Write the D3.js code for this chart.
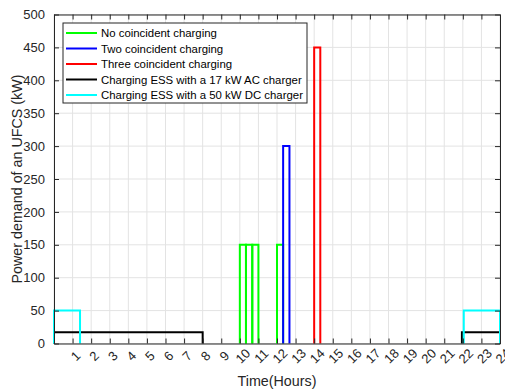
<!DOCTYPE html>
<html>
<head>
<meta charset="utf-8">
<script src="https://cdn.jsdelivr.net/npm/d3@7"></script>
<style>
  body { margin: 0; background: #fff; }
  svg { display: block; font-family: "Liberation Sans", Arial, sans-serif; }
</style>
</head>
<body>
<svg id="chart"></svg>
<script>
// series as rectangular pulses: [start hour, end hour, kW]
const noCoincident = [[10, 10.33, 150], [10.33, 10.67, 150], [10.67, 11, 150], [12, 12.33, 150]]
const twoCoincident = [[12.33, 12.67, 300]]
const threeCoincident = [[14, 14.33, 450]]
const essAC = [[0, 8, 17], [21.95, 24, 17]]
const essDC = [[0, 1.4, 50], [22.05, 24, 50]]

const seriesNames = [
  'No coincident charging',
  'Two coincident charging',
  'Three coincident charging',
  'Charging ESS with a 17 kW AC charger',
  'Charging ESS with a 50 kW DC charger'
]
const seriesColors = ['#00ff00', '#0000ff', '#ff0000', '#000000', '#00ffff']
const seriesData = [noCoincident, twoCoincident, threeCoincident, essAC, essDC]

const xTicks = d3.range(0, 25)
const xTickLabels = xTicks.map((d) => (d === 0 ? '' : String(d)))
const yTicks = d3.range(0, 501, 50)

const W = 505
const H = 390
const margin = { top: 14.5, right: 5, bottom: 46.5, left: 54 }
const width = W - margin.left - margin.right
const height = H - margin.top - margin.bottom
const axisColor = '#262626'

const svg = d3.select('#chart').attr('width', W).attr('height', H)
const g = svg.append('g').attr('transform', `translate(${margin.left},${margin.top})`)

const x = d3.scaleLinear().domain([0, 24]).range([0, width])
const y = d3.scaleLinear().domain([0, 500]).range([height, 0])

// grid
g.selectAll('.xgrid')
  .data(xTicks)
  .join('line')
  .attr('x1', (d) => x(d))
  .attr('x2', (d) => x(d))
  .attr('y1', 0)
  .attr('y2', height)
  .attr('stroke', '#e3e3e3')
  .attr('stroke-width', 1)
g.selectAll('.ygrid')
  .data(yTicks)
  .join('line')
  .attr('x1', 0)
  .attr('x2', width)
  .attr('y1', (d) => y(d))
  .attr('y2', (d) => y(d))
  .attr('stroke', '#e3e3e3')
  .attr('stroke-width', 1)

// pulses
const line = d3
  .line()
  .x((d) => x(d[0]))
  .y((d) => y(d[1]))

seriesData.forEach((pulses, i) => {
  g.append('g')
    .selectAll('path')
    .data(pulses)
    .join('path')
    .attr('fill', 'none')
    .attr('stroke', seriesColors[i])
    .attr('stroke-width', 2)
    .attr('d', (p) => line([[p[0], 0], [p[0], p[2]], [p[1], p[2]], [p[1], 0]]))
})

// axes (inward ticks, box on)
const tickLen = 5
const xAxis = g.append('g').attr('transform', `translate(0,${height})`)
xAxis.call(d3.axisBottom(x).tickValues(xTicks).tickSizeInner(-tickLen).tickSizeOuter(0).tickFormat(''))
const xTop = g.append('g')
xTop.call(d3.axisTop(x).tickValues(xTicks).tickSizeInner(-tickLen).tickSizeOuter(0).tickFormat(''))
const yAxis = g.append('g')
yAxis.call(d3.axisLeft(y).tickValues(yTicks).tickSizeInner(-tickLen).tickSizeOuter(0).tickPadding(4 + tickLen))
const yRight = g.append('g').attr('transform', `translate(${width},0)`)
yRight.call(d3.axisRight(y).tickValues(yTicks).tickSizeInner(-tickLen).tickSizeOuter(0).tickFormat(''))

;[xAxis, xTop, yAxis, yRight].forEach((a) => {
  a.selectAll('.domain').attr('stroke', axisColor).attr('stroke-width', 1)
  a.selectAll('.tick line').attr('stroke', axisColor).attr('stroke-width', 1)
})
yAxis
  .selectAll('.tick text')
  .attr('fill', axisColor)
  .style('font-size', '13px')
  .style('font-family', '"Liberation Sans", Arial, sans-serif')

// rotated x tick labels
g.append('g')
  .selectAll('text')
  .data(xTicks)
  .join('text')
  .attr('transform', (d) => `translate(${x(d) + 3},${height + 12.5}) rotate(-45)`)
  .attr('text-anchor', 'middle')
  .attr('dy', '0.35em')
  .attr('fill', axisColor)
  .style('font-size', '13px')
  .text((d, i) => xTickLabels[i])

// axis titles
g.append('text')
  .attr('x', width / 2)
  .attr('y', height + 42)
  .attr('text-anchor', 'middle')
  .attr('fill', axisColor)
  .style('font-size', '14.3px')
  .text('Time(Hours)')

g.append('text')
  .attr('transform', 'rotate(-90)')
  .attr('x', -height / 2)
  .attr('y', -32)
  .attr('text-anchor', 'middle')
  .attr('fill', axisColor)
  .style('font-size', '14.3px')
  .text('Power demand of an UFCS (kW)')

// legend
const legend = g.append('g').attr('transform', `translate(${63 - margin.left},${23 - margin.top})`)
legend
  .append('rect')
  .attr('width', 244)
  .attr('height', 80)
  .attr('fill', '#fff')
  .attr('stroke', axisColor)
  .attr('stroke-width', 1)
const rows = legend
  .selectAll('.row')
  .data(seriesNames)
  .join('g')
  .attr('transform', (d, i) => `translate(0,${10 + i * 15.5})`)
rows
  .append('line')
  .attr('x1', 3)
  .attr('x2', 34)
  .attr('stroke', (d, i) => seriesColors[i])
  .attr('stroke-width', 2)
rows
  .append('text')
  .attr('x', 38)
  .attr('dy', '0.35em')
  .attr('fill', '#000')
  .style('font-size', '11.4px')
  .text((d) => d)
</script>
</body>
</html>
